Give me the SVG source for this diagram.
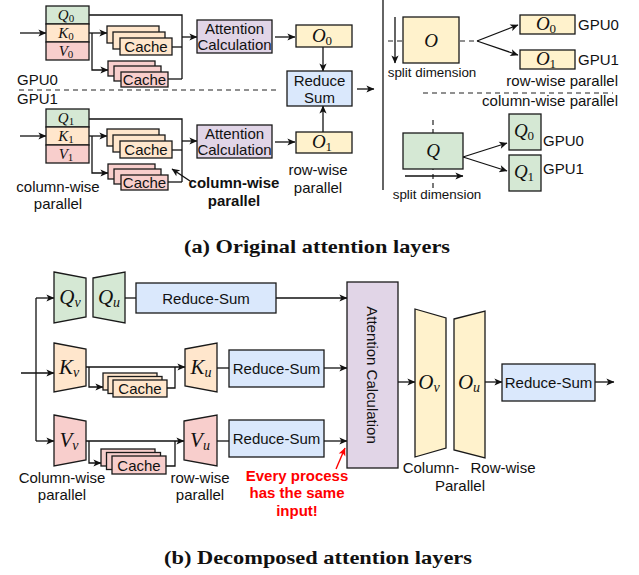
<svg xmlns="http://www.w3.org/2000/svg" width="639" height="575" viewBox="0 0 639 575">
<defs>
<marker id="ah" viewBox="0 0 10 10" refX="9.5" refY="5" markerWidth="9" markerHeight="8" markerUnits="userSpaceOnUse" orient="auto"><path d="M0,0.5 L10,5 L0,9.5 L2.5,5 z" fill="#111"/></marker>
<marker id="ahr" viewBox="0 0 10 10" refX="9.5" refY="5" markerWidth="9" markerHeight="8" markerUnits="userSpaceOnUse" orient="auto"><path d="M0,0.5 L10,5 L0,9.5 L2.5,5 z" fill="#f00"/></marker>
<style>
.bx{stroke:#1a1a1a;stroke-width:1.3}
.g{fill:#d5e8d4}.o{fill:#ffe6cc}.p{fill:#f8cecc}.u{fill:#e1d5e7}.y{fill:#fff2cc}.bl{fill:#dae8fc}
.ln{fill:none;stroke:#111;stroke-width:1.3}
.ar{fill:none;stroke:#111;stroke-width:1.3;marker-end:url(#ah)}
.da{fill:none;stroke:#222;stroke-width:1.2;stroke-dasharray:5 4}
.t{font-family:"Liberation Sans",Arial,sans-serif;font-size:15px;fill:#111}
.sm{font-size:13.4px}
.c{text-anchor:middle}
.e{text-anchor:end}
.bd{font-weight:bold}
.red{fill:#f00}
.m{font-family:"Liberation Serif","DejaVu Serif",serif;font-style:italic;font-size:19px;fill:#111;text-anchor:middle}
.mk{font-size:15px}
.ml{font-size:21px}
.s0{font-style:normal;font-size:13px}
.s1{font-style:normal;font-size:11px}
.si{font-size:14px}
.cap{font-family:"Liberation Serif","DejaVu Serif",serif;font-weight:bold;font-size:19px;fill:#111;text-anchor:middle}
</style>
</defs>

<g id="connectors">
<path class="ar" d="M20,33 H46"/>
<path class="ln" d="M89,15 H182 V79"/>
<path class="ar" d="M182,37 H197"/>
<path class="ar" d="M89,33 H107"/>
<path class="ar" d="M92,33 V70 H108"/>
<path class="ln" d="M172,47 H182"/>
<path class="ln" d="M168,79 H182"/>
<path class="ar" d="M275,37 H295"/>
<path class="ar" d="M323,47 V71"/>
<path class="ar" d="M323,132 V106"/>
<path class="ar" d="M357,89 H374"/>
<path class="ar" d="M20,136 H46"/>
<path class="ln" d="M89,119 H182 V182"/>
<path class="ar" d="M182,141 H197"/>
<path class="ar" d="M89,136 H107"/>
<path class="ar" d="M92,136 V173 H108"/>
<path class="ln" d="M172,150 H182"/>
<path class="ln" d="M168,182 H182"/>
<path class="ar" d="M275,142 H295"/>
<path class="ar" d="M190,181 L172,169"/>
<path class="da" d="M19,90 H278"/>
<path class="ln" d="M383,0 V190"/>
<path class="da" d="M388,41 H477"/>
<path class="ar" d="M395,17 V63"/>
<path class="ar" d="M477,41 L518,25"/>
<path class="ar" d="M477,41 L518,55"/>
<path class="da" d="M423,93 H613"/>
<path class="da" d="M433,120 V188"/>
<path class="ar" d="M405,176 H463"/>
<path class="ar" d="M463,157 L507,143"/>
<path class="ar" d="M463,157 L507,171"/>
<path class="ln" d="M36,298 V441"/>
<path class="ar" d="M36,298 H54"/>
<path class="ar" d="M36,441 H54"/>
<path class="ar" d="M21,373 H54"/>
<path class="ln" d="M125,298 H136"/>
<path class="ar" d="M276,298 H347"/>
<path class="ar" d="M86,367 H185"/>
<path class="ar" d="M89,367 V387 H103"/>
<path class="ln" d="M167,388 H175 V367"/>
<path class="ln" d="M217,368 H229"/>
<path class="ar" d="M324,368 H347"/>
<path class="ar" d="M86,441 H184"/>
<path class="ar" d="M89,441 V463 H101"/>
<path class="ln" d="M166,466 H175 V441"/>
<path class="ln" d="M217,441 H229"/>
<path class="ar" d="M324,441 H347"/>
<path class="ar" d="M398,382 H415"/>
<path class="ar" d="M485,382 H502"/>
<path class="ar" d="M595,382 H614"/>
<path d="M336,469 L345,448" fill="none" stroke="#f00" stroke-width="1.4" marker-end="url(#ahr)"/>
</g>

<g id="qkv0">
<rect class="bx g" x="46" y="6" width="43" height="18"/>
<rect class="bx o" x="46" y="24" width="43" height="18"/>
<rect class="bx p" x="46" y="42" width="43" height="18"/>
<text class="m mk" x="66" y="20">Q<tspan class="s1" dy="2">0</tspan></text>
<text class="m mk" x="66" y="38">K<tspan class="s1" dy="2">0</tspan></text>
<text class="m mk" x="66" y="56">V<tspan class="s1" dy="2">0</tspan></text>
</g>
<g id="kcache0">
<rect class="bx o" x="107" y="26" width="52" height="17"/>
<rect class="bx o" x="113" y="32" width="52" height="17"/>
<rect class="bx o" x="120" y="38" width="52" height="17"/>
<text class="t c" x="146" y="52">Cache</text>
</g>
<g id="vcache0">
<rect class="bx p" x="108" y="61" width="47" height="15"/>
<rect class="bx p" x="114" y="66" width="47" height="15"/>
<rect class="bx p" x="121" y="72" width="47" height="15"/>
<text class="t c" x="144.5" y="85">Cache</text>
</g>
<g id="attn0">
<rect class="bx u" x="197" y="20" width="75" height="33"/>
<text class="t c" x="234.5" y="34">Attention</text>
<text class="t c" x="234.5" y="50">Calculation</text>
</g>
<g id="o0">
<rect class="bx y" x="296" y="25" width="56" height="22"/>
<text class="m" x="322" y="42">O<tspan class="s0" dy="3">0</tspan></text>
</g>
<g id="reduce">
<rect class="bx bl" x="287" y="71" width="65" height="35"/>
<text class="t c" x="319.5" y="86">Reduce</text>
<text class="t c" x="319.5" y="103">Sum</text>
</g>
<g id="o1">
<rect class="bx y" x="296" y="132" width="56" height="21"/>
<text class="m" x="322" y="148">O<tspan class="s0" dy="3">1</tspan></text>
</g>
<text class="t" x="17" y="85">GPU0</text>
<text class="t" x="17" y="104">GPU1</text>

<g id="qkv1">
<rect class="bx g" x="46" y="109" width="43" height="18"/>
<rect class="bx o" x="46" y="127" width="43" height="18"/>
<rect class="bx p" x="46" y="145" width="43" height="18"/>
<text class="m mk" x="66" y="123">Q<tspan class="s1" dy="2">1</tspan></text>
<text class="m mk" x="66" y="141">K<tspan class="s1" dy="2">1</tspan></text>
<text class="m mk" x="66" y="159">V<tspan class="s1" dy="2">1</tspan></text>
</g>
<g id="kcache1">
<rect class="bx o" x="107" y="129" width="52" height="17"/>
<rect class="bx o" x="113" y="135" width="52" height="17"/>
<rect class="bx o" x="120" y="141" width="52" height="17"/>
<text class="t c" x="146" y="155">Cache</text>
</g>
<g id="vcache1">
<rect class="bx p" x="108" y="164" width="47" height="15"/>
<rect class="bx p" x="114" y="169" width="47" height="15"/>
<rect class="bx p" x="121" y="175" width="47" height="15"/>
<text class="t c" x="144.5" y="188">Cache</text>
</g>
<g id="attn1">
<rect class="bx u" x="197" y="125" width="75" height="33"/>
<text class="t c" x="234.5" y="139">Attention</text>
<text class="t c" x="234.5" y="155">Calculation</text>
</g>
<text class="t c" x="58" y="192">column-wise</text>
<text class="t c" x="58" y="209">parallel</text>
<text class="t c bd" x="234" y="188">column-wise</text>
<text class="t c bd" x="234" y="206">parallel</text>
<text class="t c" x="318" y="175">row-wise</text>
<text class="t c" x="318" y="193">parallel</text>

<g id="obig">
<rect class="bx y" x="403" y="17" width="56" height="46"/>
<text class="m" x="431" y="47">O</text>
</g>
<g id="o0r">
<rect class="bx y" x="520" y="15" width="55" height="19"/>
<text class="m" x="546" y="30">O<tspan class="s0" dy="3">0</tspan></text>
</g>
<g id="o1r">
<rect class="bx y" x="520" y="50" width="55" height="19"/>
<text class="m" x="546" y="65">O<tspan class="s0" dy="3">1</tspan></text>
</g>
<text class="t" x="578" y="30">GPU0</text>
<text class="t" x="578" y="65">GPU1</text>
<text class="t sm c" x="432" y="77">split dimension</text>
<text class="t e" x="618" y="86">row-wise parallel</text>
<text class="t e" x="618" y="106">column-wise parallel</text>
<g id="qbig">
<rect class="bx g" x="403" y="133" width="60" height="36"/>
<text class="m" x="433" y="157">Q</text>
</g>
<g id="q0r">
<rect class="bx g" x="509" y="114" width="32" height="36"/>
<text class="m" x="524" y="137">Q<tspan class="s0" dy="3">0</tspan></text>
</g>
<g id="q1r">
<rect class="bx g" x="509" y="155" width="32" height="36"/>
<text class="m" x="524" y="178">Q<tspan class="s0" dy="3">1</tspan></text>
</g>
<text class="t" x="543" y="146">GPU0</text>
<text class="t" x="543" y="174">GPU1</text>
<text class="t sm c" x="437" y="199">split dimension</text>

<text class="cap" x="317" y="253" textLength="266" lengthAdjust="spacingAndGlyphs">(a) Original attention layers</text>

<g id="qv">
<polygon class="bx g" points="54,272 86,278 86,317 54,323"/>
<text class="m ml" x="70" y="304">Q<tspan class="si" dy="3">v</tspan></text>
</g>
<g id="qu">
<polygon class="bx g" points="93,278 125,272 125,323 93,317"/>
<text class="m ml" x="109" y="304">Q<tspan class="si" dy="3">u</tspan></text>
</g>
<g id="rsq">
<rect class="bx bl" x="136" y="283" width="140" height="30"/>
<text class="t c" x="206" y="304">Reduce-Sum</text>
</g>
<g id="kv">
<polygon class="bx o" points="54,343 86,349 86,386 54,392"/>
<text class="m ml" x="69" y="374">K<tspan class="si" dy="3">v</tspan></text>
</g>
<g id="kcb">
<rect class="bx o" x="103" y="373" width="54" height="17"/>
<rect class="bx o" x="108" y="376.5" width="54" height="17"/>
<rect class="bx o" x="113" y="380" width="54" height="17"/>
<text class="t c" x="140" y="394">Cache</text>
</g>
<g id="ku">
<polygon class="bx o" points="185,349 217,343 217,392 185,386"/>
<text class="m ml" x="201" y="374">K<tspan class="si" dy="3">u</tspan></text>
</g>
<g id="rsk">
<rect class="bx bl" x="229" y="350" width="95" height="37"/>
<text class="t c" x="276.5" y="374">Reduce-Sum</text>
</g>
<g id="vv">
<polygon class="bx p" points="54,415 86,421 86,460 54,466"/>
<text class="m ml" x="69" y="447">V<tspan class="si" dy="3">v</tspan></text>
</g>
<g id="vcb">
<rect class="bx p" x="101" y="449" width="54" height="17"/>
<rect class="bx p" x="106.5" y="452.5" width="54" height="17"/>
<rect class="bx p" x="112" y="456" width="54" height="18"/>
<text class="t c" x="139" y="471">Cache</text>
</g>
<g id="vu">
<polygon class="bx p" points="184,421 217,415 217,466 184,460"/>
<text class="m ml" x="200" y="447">V<tspan class="si" dy="3">u</tspan></text>
</g>
<g id="rsv">
<rect class="bx bl" x="229" y="420" width="95" height="37"/>
<text class="t c" x="276.5" y="444">Reduce-Sum</text>
</g>
<g id="attnb">
<rect class="bx u" x="347" y="282" width="51" height="186"/>
<text class="t c" x="372" y="380" transform="rotate(90 372 375)">Attention Calculation</text>
</g>
<g id="ov">
<polygon class="bx y" points="415,309 446,318 446,448 415,457"/>
<text class="m ml" x="429" y="389">O<tspan class="si" dy="3">v</tspan></text>
</g>
<g id="ou">
<polygon class="bx y" points="454,319 485,311 485,458 454,450"/>
<text class="m ml" x="469" y="389">O<tspan class="si" dy="3">u</tspan></text>
</g>
<g id="rso">
<rect class="bx bl" x="502" y="364" width="93" height="37"/>
<text class="t c" x="548.5" y="388">Reduce-Sum</text>
</g>
<text class="t c" x="431" y="473">Column-</text>
<text class="t c" x="503" y="473">Row-wise</text>
<text class="t c" x="460" y="491">Parallel</text>
<text class="t c" x="62" y="483">Column-wise</text>
<text class="t c" x="62" y="500">parallel</text>
<text class="t c" x="200" y="483">row-wise</text>
<text class="t c" x="200" y="500">parallel</text>
<text class="t c bd red" x="297" y="481">Every process</text>
<text class="t c bd red" x="297" y="498">has the same</text>
<text class="t c bd red" x="297" y="516">input!</text>

<text class="cap" x="318" y="564" textLength="308" lengthAdjust="spacingAndGlyphs">(b) Decomposed attention layers</text>
</svg>
